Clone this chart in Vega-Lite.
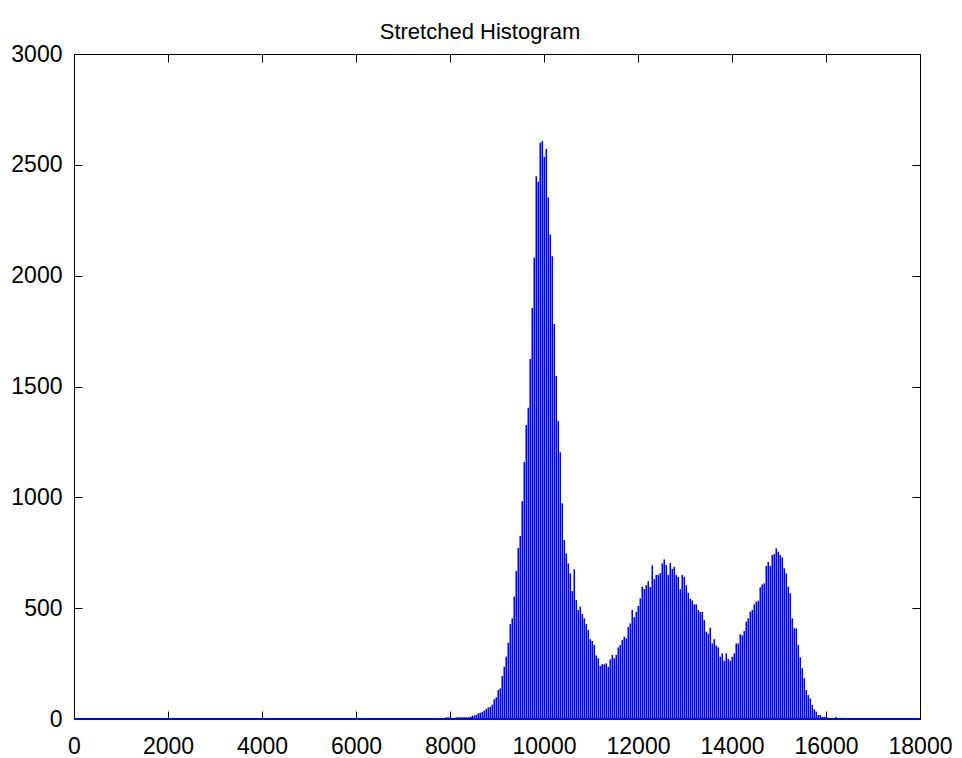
{
  "$schema": "https://vega.github.io/schema/vega-lite/v6.json",
  "autosize": "none",
  "width": 846,
  "height": 665,
  "padding": {"left": 74, "top": 54, "right": 42, "bottom": 39},
  "background": "white",
  "title": {"text": "Stretched Histogram", "fontSize": 22, "font": "Liberation Sans", "fontWeight": "normal", "color": "black", "offset": -1, "dx": -17, "anchor": "middle"},
  "config": {
    "view": {"stroke": "black", "strokeWidth": 1},
    "axis": {"domain": false, "grid": false, "tickColor": "black", "tickSize": -8, "tickWidth": 1, "labelFont": "Liberation Sans", "labelFontSize": 23, "labelColor": "black", "title": null}
  },
  "data": {"values": [
    {"x": 7921, "c": 8}, {"x": 7964, "c": 8}, {"x": 8006, "c": 8},
    {"x": 8134, "c": 8}, {"x": 8176, "c": 8}, {"x": 8219, "c": 8}, {"x": 8261, "c": 8}, {"x": 8304, "c": 8}, {"x": 8346, "c": 8}, {"x": 8389, "c": 8},
    {"x": 8432, "c": 10}, {"x": 8474, "c": 15}, {"x": 8517, "c": 16}, {"x": 8559, "c": 18}, {"x": 8602, "c": 26}, {"x": 8644, "c": 28}, {"x": 8687, "c": 32}, {"x": 8729, "c": 38},
    {"x": 8772, "c": 45}, {"x": 8815, "c": 52}, {"x": 8857, "c": 55}, {"x": 8900, "c": 65}, {"x": 8942, "c": 89}, {"x": 8985, "c": 98}, {"x": 9027, "c": 131}, {"x": 9070, "c": 138},
    {"x": 9112, "c": 194}, {"x": 9155, "c": 236}, {"x": 9197, "c": 281}, {"x": 9240, "c": 344}, {"x": 9283, "c": 428}, {"x": 9325, "c": 454}, {"x": 9368, "c": 552}, {"x": 9410, "c": 668},
    {"x": 9453, "c": 771}, {"x": 9495, "c": 825}, {"x": 9538, "c": 983}, {"x": 9581, "c": 1159}, {"x": 9623, "c": 1326}, {"x": 9666, "c": 1404}, {"x": 9708, "c": 1624}, {"x": 9751, "c": 1854},
    {"x": 9793, "c": 2081}, {"x": 9836, "c": 2449}, {"x": 9878, "c": 2424}, {"x": 9921, "c": 2600}, {"x": 9964, "c": 2607}, {"x": 10006, "c": 2536}, {"x": 10049, "c": 2571}, {"x": 10091, "c": 2353},
    {"x": 10134, "c": 2186}, {"x": 10176, "c": 2088}, {"x": 10219, "c": 1782}, {"x": 10261, "c": 1547}, {"x": 10304, "c": 1344}, {"x": 10346, "c": 1203}, {"x": 10389, "c": 973}, {"x": 10432, "c": 807},
    {"x": 10474, "c": 747}, {"x": 10517, "c": 702}, {"x": 10559, "c": 657}, {"x": 10602, "c": 577}, {"x": 10644, "c": 675}, {"x": 10687, "c": 537}, {"x": 10729, "c": 492}, {"x": 10772, "c": 507},
    {"x": 10815, "c": 474}, {"x": 10857, "c": 454}, {"x": 10900, "c": 428}, {"x": 10942, "c": 401}, {"x": 10985, "c": 360}, {"x": 11027, "c": 352}, {"x": 11070, "c": 334}, {"x": 11112, "c": 287},
    {"x": 11155, "c": 274}, {"x": 11198, "c": 239}, {"x": 11240, "c": 247}, {"x": 11283, "c": 247}, {"x": 11325, "c": 251}, {"x": 11368, "c": 236}, {"x": 11410, "c": 269}, {"x": 11453, "c": 289},
    {"x": 11495, "c": 274}, {"x": 11538, "c": 289}, {"x": 11581, "c": 323}, {"x": 11623, "c": 334}, {"x": 11666, "c": 356}, {"x": 11708, "c": 371}, {"x": 11751, "c": 364}, {"x": 11793, "c": 415},
    {"x": 11836, "c": 431}, {"x": 11878, "c": 492}, {"x": 11921, "c": 459}, {"x": 11964, "c": 484}, {"x": 12006, "c": 510}, {"x": 12049, "c": 544}, {"x": 12091, "c": 597}, {"x": 12134, "c": 586},
    {"x": 12176, "c": 604}, {"x": 12219, "c": 622}, {"x": 12261, "c": 595}, {"x": 12304, "c": 693}, {"x": 12347, "c": 631}, {"x": 12389, "c": 650}, {"x": 12432, "c": 650}, {"x": 12474, "c": 658},
    {"x": 12517, "c": 702}, {"x": 12559, "c": 720}, {"x": 12602, "c": 695}, {"x": 12644, "c": 650}, {"x": 12687, "c": 704}, {"x": 12730, "c": 677}, {"x": 12772, "c": 686}, {"x": 12815, "c": 650},
    {"x": 12857, "c": 641}, {"x": 12900, "c": 586}, {"x": 12942, "c": 650}, {"x": 12985, "c": 641}, {"x": 13027, "c": 604}, {"x": 13070, "c": 570}, {"x": 13113, "c": 543}, {"x": 13155, "c": 535},
    {"x": 13198, "c": 517}, {"x": 13240, "c": 517}, {"x": 13283, "c": 492}, {"x": 13325, "c": 483}, {"x": 13368, "c": 483}, {"x": 13410, "c": 447}, {"x": 13453, "c": 394}, {"x": 13496, "c": 385},
    {"x": 13538, "c": 412}, {"x": 13581, "c": 341}, {"x": 13623, "c": 360}, {"x": 13666, "c": 332}, {"x": 13708, "c": 323}, {"x": 13751, "c": 281}, {"x": 13793, "c": 296}, {"x": 13836, "c": 263},
    {"x": 13878, "c": 296}, {"x": 13921, "c": 271}, {"x": 13964, "c": 263}, {"x": 14006, "c": 281}, {"x": 14049, "c": 296}, {"x": 14091, "c": 341}, {"x": 14134, "c": 341}, {"x": 14176, "c": 382},
    {"x": 14219, "c": 377}, {"x": 14261, "c": 397}, {"x": 14304, "c": 439}, {"x": 14346, "c": 454}, {"x": 14389, "c": 484}, {"x": 14432, "c": 492}, {"x": 14474, "c": 517}, {"x": 14517, "c": 529},
    {"x": 14559, "c": 534}, {"x": 14602, "c": 594}, {"x": 14644, "c": 607}, {"x": 14687, "c": 612}, {"x": 14730, "c": 691}, {"x": 14772, "c": 709}, {"x": 14815, "c": 690}, {"x": 14857, "c": 740},
    {"x": 14900, "c": 744}, {"x": 14942, "c": 770}, {"x": 14985, "c": 755}, {"x": 15027, "c": 740}, {"x": 15070, "c": 729}, {"x": 15112, "c": 680}, {"x": 15155, "c": 657}, {"x": 15198, "c": 597},
    {"x": 15240, "c": 567}, {"x": 15283, "c": 454}, {"x": 15325, "c": 409}, {"x": 15368, "c": 409}, {"x": 15410, "c": 334}, {"x": 15453, "c": 278}, {"x": 15495, "c": 229}, {"x": 15538, "c": 184},
    {"x": 15581, "c": 131}, {"x": 15623, "c": 108}, {"x": 15666, "c": 93}, {"x": 15708, "c": 63}, {"x": 15751, "c": 44}, {"x": 15793, "c": 33}, {"x": 15836, "c": 18}, {"x": 15878, "c": 18},
    {"x": 15921, "c": 10}, {"x": 15963, "c": 10}, {"x": 16006, "c": 10}, {"x": 16048, "c": 6}, {"x": 16091, "c": 4}, {"x": 16219, "c": 10}, {"x": 16347, "c": 6}
  ]},
  "layer": [
    {
      "mark": {"type": "rule", "color": "#0000ff", "strokeWidth": 1.6},
      "encoding": {
        "x": {"field": "x", "type": "quantitative", "scale": {"domain": [0, 18000], "nice": false, "zero": false},
              "axis": {"orient": "bottom", "values": [0, 2000, 4000, 6000, 8000, 10000, 12000, 14000, 16000, 18000], "format": "d", "labelPadding": 24, "labelFlush": false}},
        "y": {"field": "c", "type": "quantitative", "scale": {"domain": [0, 3000], "nice": false},
              "axis": {"orient": "left", "values": [0, 500, 1000, 1500, 2000, 2500, 3000], "format": "d", "labelPadding": 20, "labelFlush": false}},
        "y2": {"datum": 0}
      }
    },
    {
      "mark": {"type": "rule", "color": "#0000ff", "strokeWidth": 1.3},
      "encoding": {
        "x": {"datum": 0, "type": "quantitative", "axis": {"orient": "top", "labels": false, "values": [0, 2000, 4000, 6000, 8000, 10000, 12000, 14000, 16000, 18000]}},
        "x2": {"datum": 18000},
        "y": {"datum": 0, "type": "quantitative", "axis": {"orient": "right", "labels": false, "values": [0, 500, 1000, 1500, 2000, 2500, 3000]}}
      }
    }
  ]
}
